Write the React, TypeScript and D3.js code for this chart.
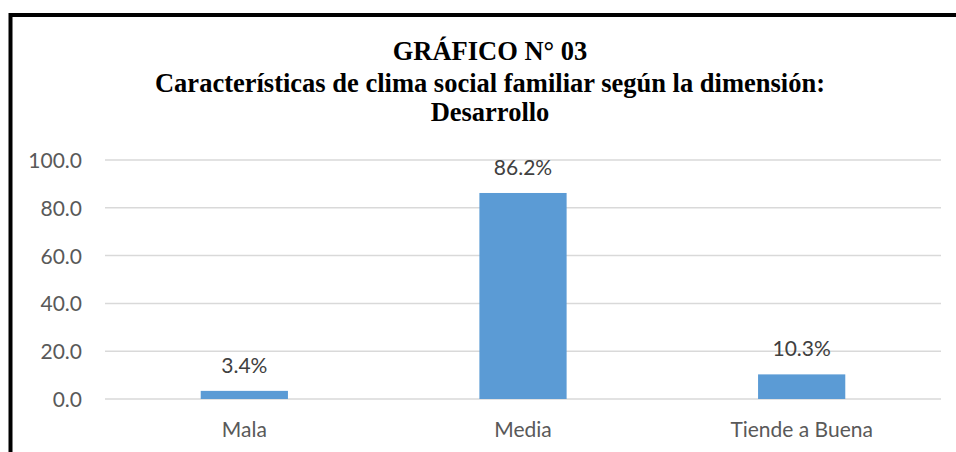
import React from "react";
import * as d3 from "d3";

const categories = ["Mala", "Media", "Tiende a Buena"];
const values = [3.4, 86.2, 10.3];
const valueLabels = ["3.4%", "86.2%", "10.3%"];
const yTicks = [0, 20, 40, 60, 80, 100];
const titleLines = [
  "GRÁFICO N° 03",
  "Características de clima social familiar según la dimensión:",
  "Desarrollo",
];

const W = 956;
const H = 452;
const plotLeft = 105;
const plotRight = 941;
const yZero = 399;
const yTop = 160;

export default function App() {
  const x = d3.scaleBand<string>().domain(categories).range([plotLeft, plotRight]).paddingInner(0).paddingOuter(0);
  const y = d3.scaleLinear().domain([0, 100]).range([yZero, yTop]);
  const barW = x.step() * 0.313;
  const font = "Lato, 'Open Sans', sans-serif";
  const titleBaselines = [60, 92, 121];

  return (
    <svg width={W} height={H} style={{ position: "absolute", left: 0, top: 0, background: "#fff" }}>
      <rect x={0} y={0} width={W} height={H} fill="#fff" />
      {/* border */}
      <rect x={10.5} y={15} width={W + 20} height={H + 20} fill="none" stroke="#000" strokeWidth={4} />
      {/* title */}
      {titleLines.map((t, i) => (
        <text
          key={i}
          x={490}
          y={titleBaselines[i]}
          textAnchor="middle"
          fontFamily="'Liberation Serif', 'Times New Roman', serif"
          fontWeight="bold"
          fontSize={26.5}
          fill="#000"
        >
          {t}
        </text>
      ))}
      {/* gridlines & y ticks */}
      {yTicks.map((t) => (
        <g key={t}>
          <line x1={plotLeft} x2={plotRight} y1={y(t)} y2={y(t)} stroke="#d9d9d9" strokeWidth={1.5} />
          <text x={82} y={y(t) + 8} textAnchor="end" fontFamily={font} fontSize={21} fill="#595959">
            {d3.format(".1f")(t)}
          </text>
        </g>
      ))}
      {/* bars */}
      {categories.map((c, i) => {
        const cx = (x(c) as number) + x.bandwidth() / 2;
        return (
          <g key={c}>
            <rect x={cx - barW / 2} y={y(values[i])} width={barW} height={yZero - y(values[i])} fill="#5b9bd5" />
            <text x={cx} y={y(values[i]) - 18} textAnchor="middle" fontFamily={font} fontSize={21} fill="#404040">
              {valueLabels[i]}
            </text>
            <text x={cx} y={437} textAnchor="middle" fontFamily={font} fontSize={21} fill="#595959">
              {c}
            </text>
          </g>
        );
      })}
    </svg>
  );
}
